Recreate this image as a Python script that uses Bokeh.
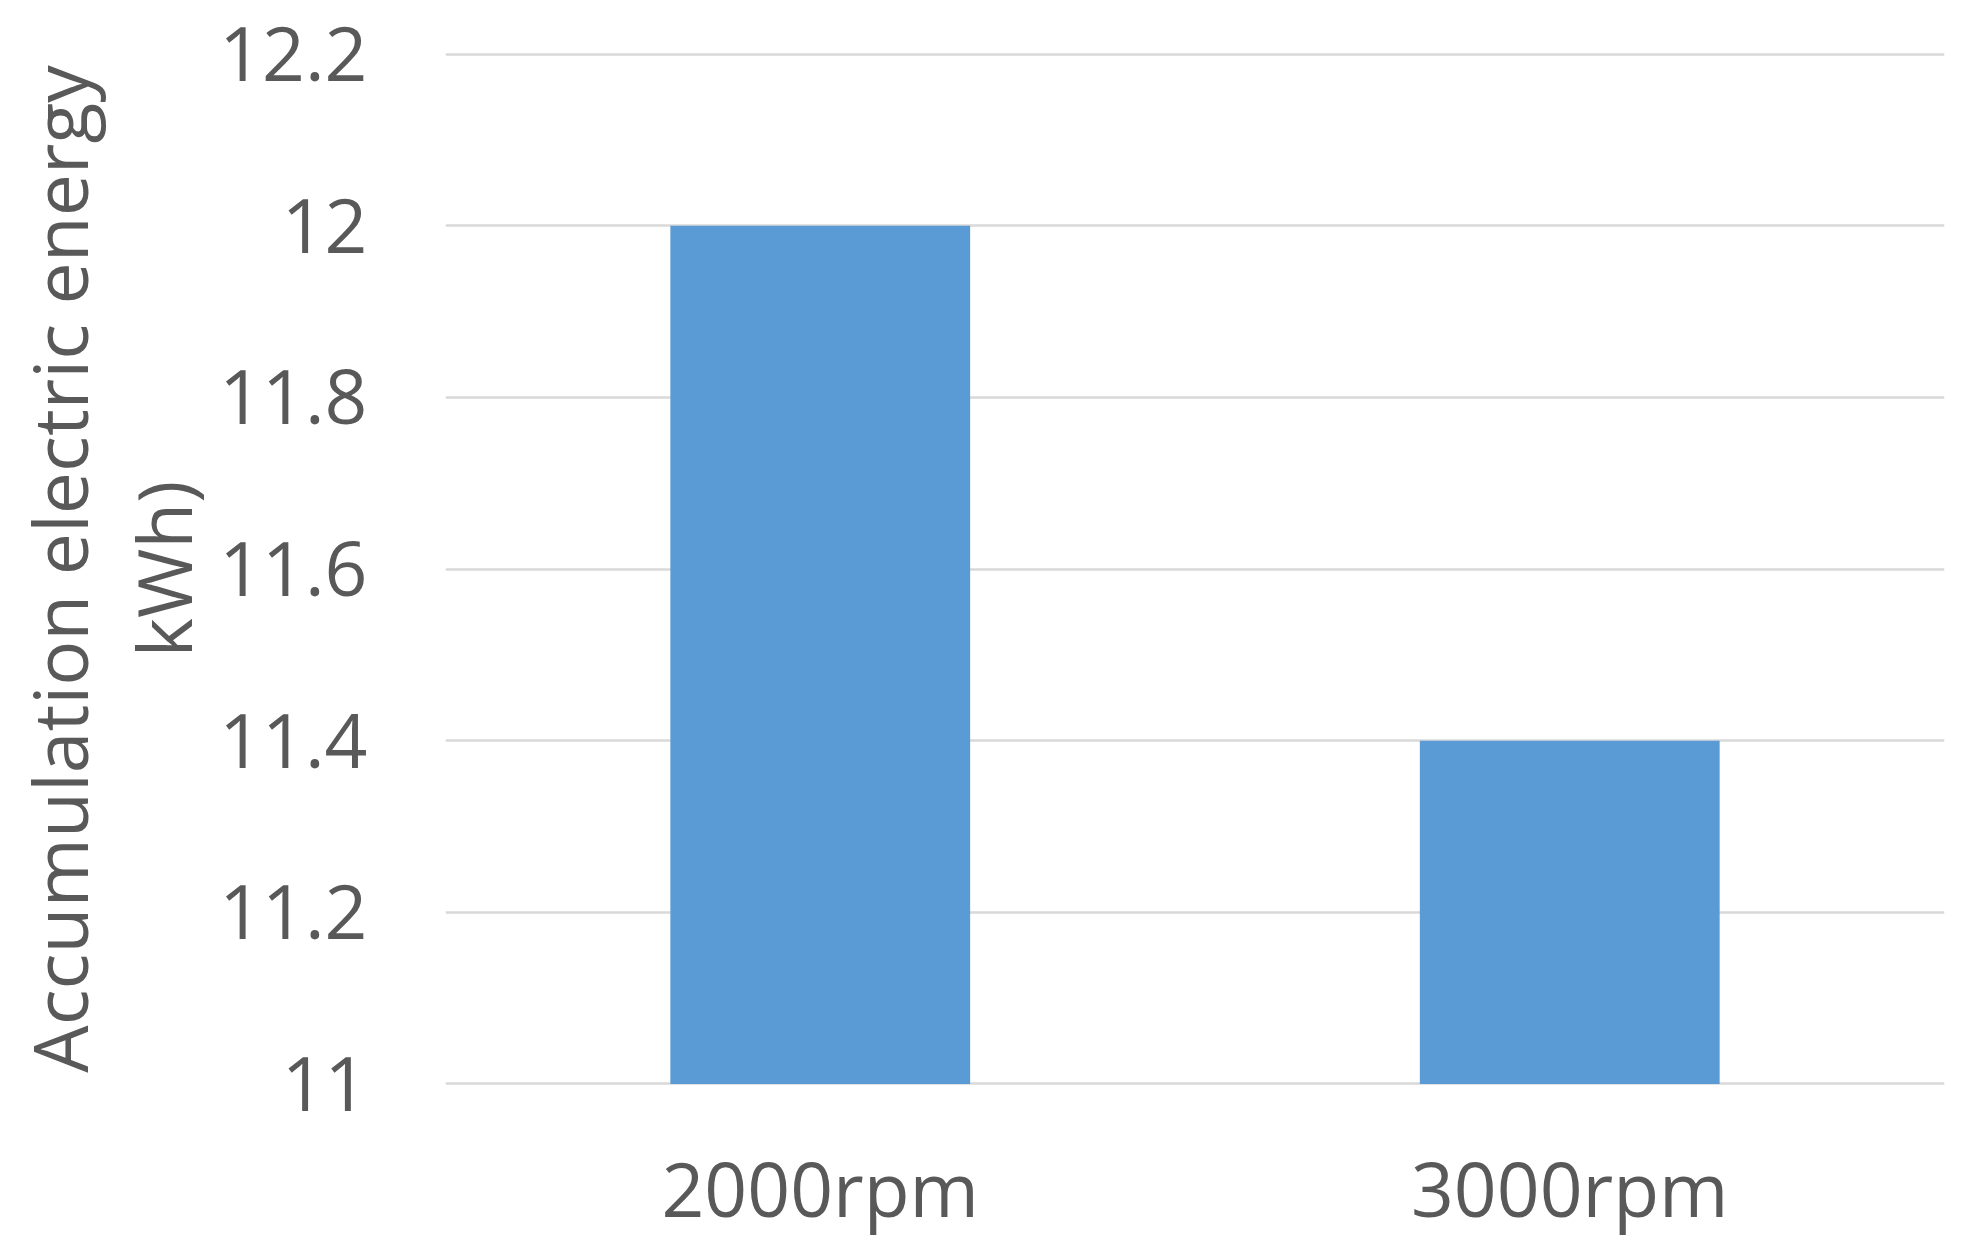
from bokeh.plotting import figure
from bokeh.models import Range1d, FixedTicker
from bokeh.embed import file_html
from bokeh.resources import INLINE

speeds = ["2000rpm", "3000rpm"]
energy = [12.0, 11.4]
y_ticks = [11, 11.2, 11.4, 11.6, 11.8, 12, 12.2]
y_tick_labels = {11: "11", 11.2: "11.2", 11.4: "11.4", 11.6: "11.6",
                 11.8: "11.8", 12: "12", 12.2: "12.2"}

FONT = "Open Sans"
TEXT = "#595959"

p = figure(
    x_range=speeds,
    y_range=Range1d(10.997, 12.203),
    frame_width=1499,
    frame_height=1035,
    min_border_left=445,
    min_border_right=4,
    min_border_top=51,
    min_border_bottom=147,
    toolbar_location=None,
    output_backend="svg",
)

p.vbar(x=speeds, top=energy, bottom=11, width=0.4,
       fill_color="#5B9BD5", line_color=None)

p.outline_line_color = None
p.xgrid.grid_line_color = None
p.ygrid.grid_line_color = "#D9D9D9"
p.ygrid.grid_line_width = 2.3
p.ygrid.ticker = FixedTicker(ticks=y_ticks)

p.yaxis.ticker = FixedTicker(ticks=y_ticks)
p.yaxis.major_label_overrides = y_tick_labels
p.yaxis.axis_label = "Accumulation electric energy\nkWh)"

for ax in (p.xaxis, p.yaxis):
    ax.axis_line_color = None
    ax.major_tick_line_color = None
    ax.minor_tick_line_color = None
    ax.major_label_text_font = FONT
    ax.major_label_text_font_size = "75px"
    ax.major_label_text_color = TEXT
    ax.axis_label_text_font = FONT
    ax.axis_label_text_font_size = "75px"
    ax.axis_label_text_font_style = "normal"
    ax.axis_label_text_color = TEXT

p.yaxis.axis_label_text_line_height = 1.02
p.yaxis.major_label_standoff = 72
p.yaxis.axis_label_standoff = 2
p.xaxis.major_label_standoff = 44

open("out.html", "w").write(file_html(p, INLINE))
